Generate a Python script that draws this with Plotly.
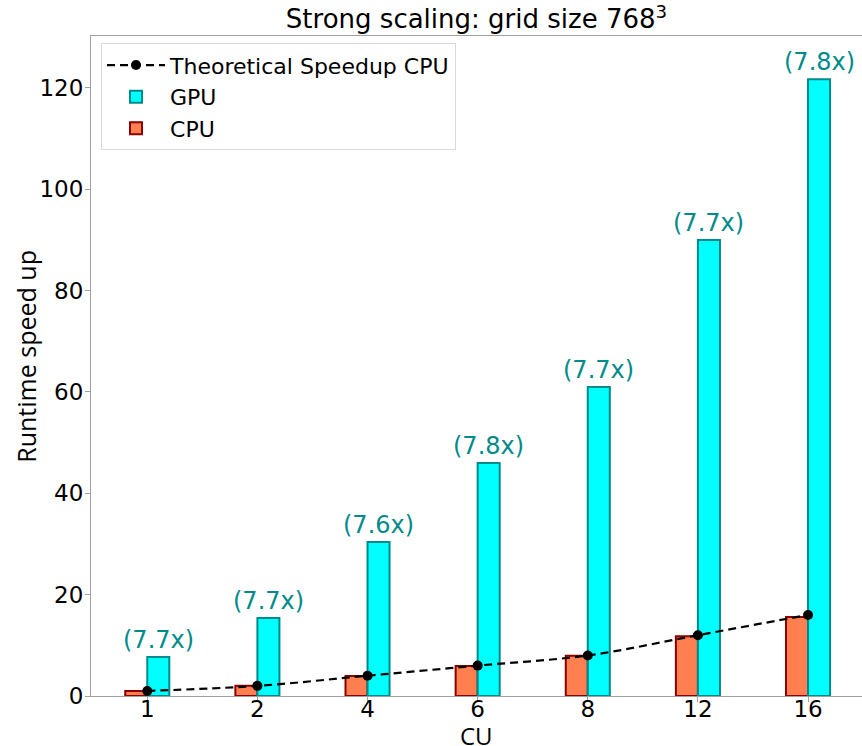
import plotly.graph_objects as go

cu_labels = ["1", "2", "4", "6", "8", "12", "16"]
cpu_speedup = [1.0, 2.0, 3.95, 5.9, 7.95, 11.8, 15.6]
gpu_speedup = [7.7, 15.4, 30.4, 46.0, 61.0, 90.0, 121.7]
theoretical = [1, 2, 4, 6, 8, 12, 16]
ratio_labels = ["(7.7x)", "(7.7x)", "(7.6x)", "(7.8x)", "(7.7x)", "(7.7x)", "(7.8x)"]

pos = list(range(len(cu_labels)))

fig = go.Figure()
fig.add_trace(go.Bar(
    x=pos, y=cpu_speedup, name="CPU", width=0.2, offset=-0.2,
    marker=dict(color="#FF7F50", line=dict(color="#8B0000", width=2)),
    legendrank=3,
))
fig.add_trace(go.Bar(
    x=pos, y=gpu_speedup, name="GPU", width=0.2, offset=0.0,
    marker=dict(color="#00FFFF", line=dict(color="#008B8B", width=2)),
    legendrank=2,
))
fig.add_trace(go.Scatter(
    x=pos, y=theoretical, name="Theoretical Speedup CPU", mode="lines+markers",
    line=dict(color="black", width=2.2, dash="8px,5px", shape="spline"),
    marker=dict(color="black", size=10),
    legendrank=1,
))

for i, (g, t) in enumerate(zip(gpu_speedup, ratio_labels)):
    fig.add_annotation(
        x=i + 0.1, y=g, text=t, showarrow=False, yanchor="bottom", yshift=1,
        font=dict(family="DejaVu Sans", size=24, color="#008B8B"),
    )

# axis titles as annotations for precise placement
fig.add_annotation(
    xref="paper", yref="paper", x=-0.0843, y=0.514, text="Runtime speed up",
    textangle=-90, showarrow=False, xanchor="center", yanchor="middle",
    font=dict(family="Open Sans", size=25, color="black"),
)
fig.add_annotation(
    xref="paper", yref="paper", x=0.5, y=-0.06, text="CU",
    showarrow=False, xanchor="center", yanchor="middle",
    font=dict(family="Open Sans", size=24, color="black"),
)

fig.update_layout(
    width=862, height=746,
    margin=dict(l=91, r=0, t=36, b=50),
    paper_bgcolor="white", plot_bgcolor="white",
    barmode="overlay",
    showlegend=True,
    title=dict(
        text="Strong scaling: grid size 768<sup>3</sup>",
        x=0.5, xanchor="center", xref="paper", yref="container", y=0.974, yanchor="middle",
        font=dict(family="DejaVu Sans", size=26, color="black"),
    ),
    legend=dict(
        x=0.013, y=0.989, xanchor="left", yanchor="top",
        bgcolor="rgba(255,255,255,0.8)", bordercolor="#d9d9d9", borderwidth=1,
        font=dict(family="DejaVu Sans", size=22, color="black"),
        itemwidth=58,
    ),
    xaxis=dict(
        range=[-0.511, 6.49], tickmode="array", tickvals=pos, ticktext=cu_labels,
        showline=True, linecolor="#a0a0a0", linewidth=1.2, mirror=True,
        ticks="outside", ticklen=5, tickcolor="#a0a0a0", showgrid=False, zeroline=False,
        automargin=False, ticklabelstandoff=-13,
        tickfont=dict(family="DejaVu Sans", size=23, color="black"),
    ),
    yaxis=dict(
        range=[0, 130.25], tickmode="array", tickvals=[0, 20, 40, 60, 80, 100, 120],
        showline=True, linecolor="#a0a0a0", linewidth=1.2, mirror=False,
        ticks="outside", ticklen=5, tickcolor="#a0a0a0", showgrid=False, zeroline=False,
        automargin=False, ticklabelstandoff=-3,
        tickfont=dict(family="DejaVu Sans", size=23, color="black"),
    ),
)

fig.write_html("out.html")
